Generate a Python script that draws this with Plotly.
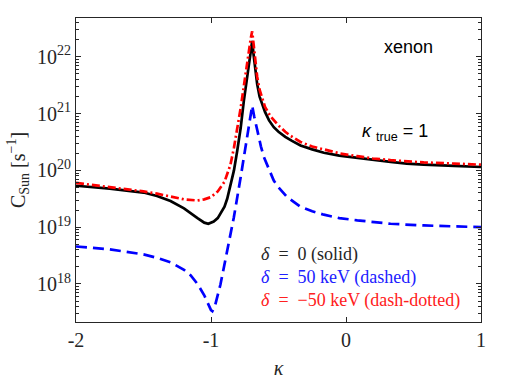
import plotly.graph_objects as go

# kappa values and log10(C_Sun)
kappa_solid = [-2.0, -1.75, -1.5, -1.4, -1.3, -1.2, -1.1, -1.05, -1.02, -0.98, -0.95, -0.92, -0.9,
               -0.88, -0.856, -0.83, -0.806, -0.78, -0.757, -0.74, -0.72, -0.705, -0.695, -0.685,
               -0.672, -0.658, -0.64, -0.62, -0.6, -0.57, -0.535, -0.5, -0.45, -0.4, -0.337,
               -0.25, -0.164, -0.05, 0.083, 0.2, 0.33, 0.45, 0.576, 0.8, 1.0]
logC_solid = [19.73, 19.68, 19.61, 19.55, 19.46, 19.33, 19.16, 19.08, 19.06, 19.10, 19.16, 19.27, 19.36,
              19.50, 19.72, 20.0, 20.34, 20.75, 21.22, 21.55, 21.85, 22.1, 22.28, 22.05,
              21.8, 21.52, 21.3, 21.15, 21.03, 20.88, 20.76, 20.68, 20.59, 20.52, 20.44,
              20.37, 20.31, 20.26, 20.22, 20.18, 20.15, 20.12, 20.10, 20.08, 20.06]

kappa_dashed = [-2.0, -1.75, -1.5, -1.4, -1.3, -1.2, -1.15, -1.1, -1.05, -1.02, -1.0, -0.99, -0.97,
                -0.93, -0.88, -0.831, -0.781, -0.732, -0.71, -0.695, -0.68, -0.658, -0.63, -0.609,
                -0.57, -0.535, -0.5, -0.436, -0.337, -0.25, -0.164, -0.05, 0.083, 0.2, 0.33,
                0.576, 0.8, 1.0]
logC_dashed = [18.66, 18.61, 18.52, 18.46, 18.38, 18.25, 18.15, 18.0, 17.8, 17.64, 17.54, 17.52, 17.62,
               17.99, 18.58, 19.17, 19.87, 20.63, 20.95, 21.14, 20.95, 20.69, 20.42, 20.24,
               20.0, 19.82, 19.70, 19.53, 19.36, 19.28, 19.22, 19.16, 19.12, 19.09, 19.06,
               19.03, 19.01, 19.00]

kappa_dashdot = [-2.0, -1.75, -1.5, -1.4, -1.3, -1.2, -1.1, -1.05, -1.0, -0.95, -0.9, -0.856, -0.83,
                 -0.806, -0.78, -0.757, -0.74, -0.72, -0.705, -0.695, -0.685, -0.672, -0.658, -0.64,
                 -0.62, -0.6, -0.559, -0.5, -0.45, -0.411, -0.337, -0.25, -0.164, -0.05, 0.083,
                 0.2, 0.33, 0.45, 0.576, 0.8, 1.0]
logC_dashdot = [19.78, 19.71, 19.63, 19.59, 19.54, 19.49, 19.47, 19.49, 19.53, 19.63, 19.80, 20.10, 20.40,
                20.72, 21.1, 21.48, 21.78, 22.1, 22.33, 22.45, 22.2, 21.9, 21.65, 21.42,
                21.25, 21.12, 20.95, 20.79, 20.68, 20.61, 20.50, 20.42, 20.37, 20.30, 20.25,
                20.21, 20.18, 20.16, 20.14, 20.12, 20.10]

x_ticks = [-2, -1, 0, 1]
y_exps = [18, 19, 20, 21, 22]

serif = "Liberation Serif"
sans = "Liberation Sans"
axis_col = "#262626"

fig = go.Figure()
fig.add_trace(go.Scatter(x=kappa_solid, y=[10.0 ** v for v in logC_solid], mode="lines",
                         line=dict(color="#000000", width=2.7)))
fig.add_trace(go.Scatter(x=kappa_dashed, y=[10.0 ** v for v in logC_dashed], mode="lines",
                         line=dict(color="#0000ff", width=2.7, dash="11px,6px")))
fig.add_trace(go.Scatter(x=kappa_dashdot, y=[10.0 ** v for v in logC_dashdot], mode="lines",
                         line=dict(color="#ff0000", width=2.7, dash="8px,3px,2px,3px")))

fig.update_layout(
    width=506, height=379,
    margin=dict(l=76, r=25, t=18, b=57, autoexpand=False),
    paper_bgcolor="white", plot_bgcolor="white",
    showlegend=False,
    font=dict(family=serif, size=20, color=axis_col),
)

fig.update_xaxes(
    range=[-2, 1], tickvals=x_ticks, ticktext=[str(v) for v in x_ticks],
    tickfont=dict(family=serif, size=20, color=axis_col),
    ticks="inside", ticklen=5, tickcolor=axis_col,
    showline=True, linecolor=axis_col, linewidth=1, mirror="ticks",
    showgrid=False, zeroline=False, automargin=False,
    title=dict(text="<i>κ</i>", font=dict(family=serif, size=20), standoff=10),
)
fig.update_yaxes(
    type="log", range=[17.33, 22.684],
    tickvals=[10.0 ** e for e in y_exps], ticktext=["10<sup>%d</sup>" % e for e in y_exps],
    tickfont=dict(family=serif, size=20, color=axis_col),
    ticks="inside", ticklen=5, tickcolor=axis_col,
    minor=dict(ticks="inside", ticklen=3, dtick="D1", tickcolor=axis_col, showgrid=False),
    showline=True, linecolor=axis_col, linewidth=1, mirror="ticks",
    showgrid=False, zeroline=False, automargin=False,
    title=dict(text="C<sub>Sun</sub> [s<sup>−1</sup>]", font=dict(family=serif, size=20), standoff=6),
)

fig.add_annotation(text="xenon", x=0.821, y=0.903, xref="paper", yref="paper",
                   xanchor="center", yanchor="middle", showarrow=False,
                   font=dict(family=sans, size=18, color="#000000"))
fig.add_annotation(text="<i>κ</i> <sub>true</sub> = 1", x=0.701, y=0.623, xref="paper", yref="paper",
                   xanchor="left", yanchor="middle", showarrow=False,
                   font=dict(family=sans, size=18, color="#000000"))

legend_texts = ["<i>δ</i>\u2002=\u20020 (solid)",
                "<i>δ</i>\u2002=\u200250 keV (dashed)",
                "<i>δ</i>\u2002=\u2002−50 keV (dash-dotted)"]
legend_colors = ["#262626", "#2020ff", "#ff2020"]
legend_y = [0.221, 0.148, 0.072]
for t, c, yy in zip(legend_texts, legend_colors, legend_y):
    fig.add_annotation(text=t, x=0.452, y=yy, xref="paper", yref="paper",
                       xanchor="left", yanchor="middle",
                       showarrow=False, font=dict(family=serif, size=18, color=c))

# drop the page's default body margin so the figure sits at the top-left corner
fig.write_html("out.html", config={"displayModeBar": False},
               post_script="document.body.style.margin='0px';")
